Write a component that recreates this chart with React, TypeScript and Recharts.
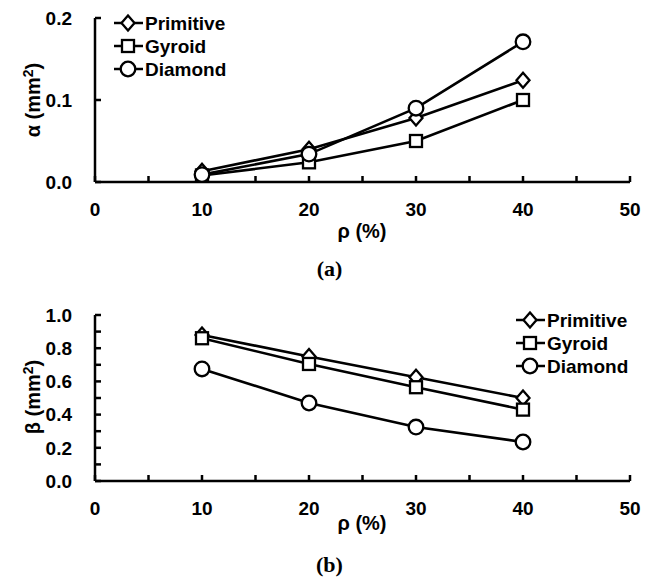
import React from 'react';
import { LineChart, Line, XAxis, YAxis, Label } from 'recharts';

const rho = [10, 20, 30, 40];
const alphaPrimitive = [0.013, 0.04, 0.078, 0.124];
const alphaGyroid = [0.008, 0.024, 0.05, 0.1];
const alphaDiamond = [0.009, 0.034, 0.09, 0.171];
const betaPrimitive = [0.88, 0.75, 0.625, 0.5];
const betaGyroid = [0.86, 0.705, 0.565, 0.43];
const betaDiamond = [0.675, 0.47, 0.325, 0.235];

const xTicks = [0, 5, 10, 15, 20, 25, 30, 35, 40, 45, 50];
const alphaTicks = [0, 0.1, 0.2];
const betaTicks = [0, 0.1, 0.2, 0.3, 0.4, 0.5, 0.6, 0.7, 0.8, 0.9, 1.0];
const seriesNames = ['Primitive', 'Gyroid', 'Diamond'];

const alphaData = rho.map((r, i) => ({
  rho: r,
  Primitive: alphaPrimitive[i],
  Gyroid: alphaGyroid[i],
  Diamond: alphaDiamond[i],
}));
const betaData = rho.map((r, i) => ({
  rho: r,
  Primitive: betaPrimitive[i],
  Gyroid: betaGyroid[i],
  Diamond: betaDiamond[i],
}));

const FONT = '"Liberation Sans", Arial, sans-serif';
const tickStyle = { fontFamily: FONT, fontWeight: 700, fontSize: 19, fill: '#000' };
const labelStyle = { ...tickStyle, fontSize: 20 };

const marker = (kind: string, cx: number, cy: number, key?: any) => {
  const common = { fill: '#fff', stroke: '#000', strokeWidth: 2.3 };
  if (kind === 'Primitive')
    return <path key={key} d={`M${cx},${cy - 7.5}L${cx + 6.5},${cy}L${cx},${cy + 7.5}L${cx - 6.5},${cy}Z`} {...common} />;
  if (kind === 'Gyroid')
    return <rect key={key} x={cx - 6} y={cy - 6} width={12} height={12} {...common} />;
  return <circle key={key} cx={cx} cy={cy} r={7.3} {...common} />;
};

const dotFor = (kind: string) => (p: any) => marker(kind, p.cx, p.cy, p.key ?? `${kind}-${p.index}`);

const LegendBox = ({ left, top }: { left: number; top: number }) => (
  <svg width={130} height={72} style={{ position: 'absolute', left, top }}>
    {seriesNames.map((n, i) => {
      const y = 11 + i * 23;
      return (
        <g key={n}>
          <line x1={1} x2={30} y1={y} y2={y} stroke="#000" strokeWidth={2.5} />
          {marker(n, 15, y)}
          <text x={32} y={y + 7} style={tickStyle}>{n}</text>
        </g>
      );
    })}
  </svg>
);

const xTickFmt = (v: number) => (v % 10 === 0 ? String(v) : '');

const Panel = ({ data, yTicks, yDomain, yFmt, yLabel, yLabelY, xLabelY, legendPos, height, top, plotTop, plotH }: any) => (
  <div style={{ position: 'absolute', left: 0, top, width: 659, height }}>
    <LineChart width={659} height={height} data={data} margin={{ top: plotTop, right: 29, left: 0, bottom: 0 }}>
      <XAxis
        dataKey="rho"
        type="number"
        domain={[0, 50]}
        ticks={xTicks}
        interval={0}
        tickFormatter={xTickFmt}
        height={height - plotTop - plotH}
        stroke="#000"
        strokeWidth={2.5}
        tickSize={-6}
        tickMargin={27}
        tick={tickStyle}
      >
        <Label
          content={() => (
            <text x={362} y={xLabelY} textAnchor="middle" style={labelStyle}>ρ (%)</text>
          )}
        />
      </XAxis>
      <YAxis
        type="number"
        domain={yDomain}
        ticks={yTicks}
        interval={0}
        tickFormatter={yFmt}
        width={95}
        stroke="#000"
        strokeWidth={2.5}
        tickSize={-6}
        tickMargin={29}
        tick={tickStyle}
      >
        <Label
          content={() => (
            <text
              x={0}
              y={0}
              textAnchor="middle"
              transform={`translate(40, ${yLabelY}) rotate(-90)`}
              style={labelStyle}
            >
              {yLabel}
              <tspan dy={-7} fontSize={14}>2</tspan>
              <tspan dy={7}>)</tspan>
            </text>
          )}
        />
      </YAxis>
      {seriesNames.map((n) => (
        <Line
          key={n}
          dataKey={n}
          stroke="#000"
          strokeWidth={2.6}
          dot={dotFor(n)}
          activeDot={false}
          isAnimationActive={false}
        />
      ))}
    </LineChart>
    <LegendBox left={legendPos[0]} top={legendPos[1]} />
  </div>
);

export default function App() {
  return (
    <div style={{ position: 'absolute', left: 0, top: 0, width: 659, height: 584, background: '#fff' }}>
      <Panel
        data={alphaData}
        yTicks={alphaTicks}
        yDomain={[0, 0.2]}
        yFmt={(v: number) => v.toFixed(1)}
        yLabel="α (mm"
        yLabelY={100}
        xLabelY={238}
        legendPos={[113, 12]}
        height={290}
        top={0}
        plotTop={18}
        plotH={164}
      />
      <Panel
        data={betaData}
        yTicks={betaTicks}
        yDomain={[0, 1]}
        yFmt={(v: number) => (Math.round(v * 10) % 2 === 0 ? v.toFixed(1) : '')}
        yLabel="β (mm"
        yLabelY={107}
        xLabelY={240}
        legendPos={[515, 19]}
        height={294}
        top={290}
        plotTop={25}
        plotH={166}
      />
      <div style={{ position: 'absolute', left: 0, width: 659, top: 256, textAlign: 'center', fontFamily: '"Liberation Serif", "Times New Roman", serif', fontWeight: 700, fontSize: 22 }}>(a)</div>
      <div style={{ position: 'absolute', left: 0, width: 659, top: 552, textAlign: 'center', fontFamily: '"Liberation Serif", "Times New Roman", serif', fontWeight: 700, fontSize: 22 }}>(b)</div>
    </div>
  );
}
